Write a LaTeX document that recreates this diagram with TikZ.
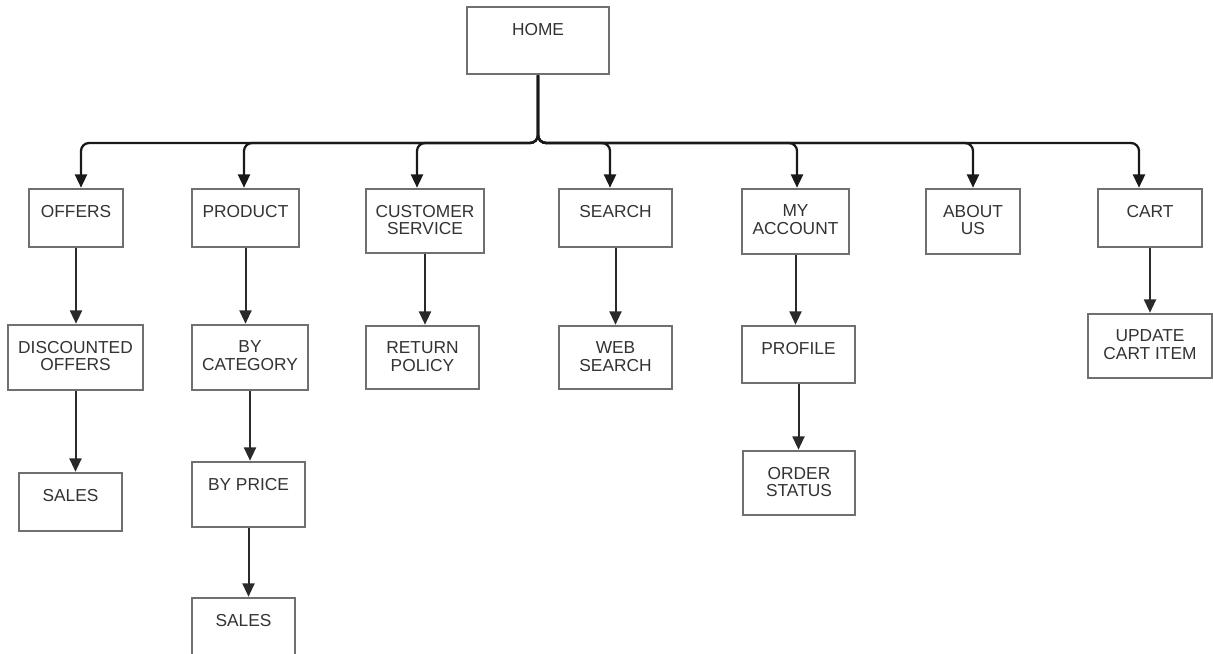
\documentclass[tikz,border=0pt]{standalone}
\usepackage{fontspec}
\setmainfont{Liberation Sans}
\usetikzlibrary{arrows.meta}
\definecolor{boxgray}{HTML}{707070}
\definecolor{txtgray}{HTML}{333333}
\definecolor{lingray}{HTML}{2A2A2A}
\tikzset{
  box/.style={draw=boxgray, line width=1.9pt, fill=white, inner sep=0pt},
  lbl/.style={anchor=north, inner sep=0pt, align=center, text=txtgray,
    font=\fontsize{13}{13.3}\selectfont},
  conn/.style={draw=lingray, line width=1.5pt,
    -{Triangle[length=10pt,width=9pt]}},
  bus/.style={conn, line width=1.7pt, draw=black!90, rounded corners=6pt},
}
\newcommand\bx[6]{%
  \node[box, minimum width={(#4-#2)*0.75pt}, minimum height={(#5-#3)*0.75pt}]
    (#1) at ({(#2+#4)/2},{(#3+#5)/2}) {};
  \node[lbl] (#1t) at ([yshift={-17*0.75pt}]#1.north) {#6};
}
\begin{document}
\begin{tikzpicture}[x=0.75pt, y=-0.75pt]
\useasboundingbox (0,0) rectangle (1213,653);
\clip (0,0) rectangle (1213,653);
\fill[white] (0,0) rectangle (1213,653);
% boxes
\bx{home}{467}{7}{609}{74}{HOME}
\bx{off}{29}{189}{123}{247}{OFFERS}
\bx{prod}{192}{189}{299}{247}{PRODUCT}
\bx{cs}{366}{189}{484}{253}{CUSTOMER\\SERVICE}
\bx{srch}{559}{189}{672}{247}{SEARCH}
\bx{acct}{742}{189}{849}{254}{MY\\ACCOUNT}
\bx{about}{926}{189}{1020}{254}{ABOUT\\US}
\bx{cart}{1098}{189}{1202}{247}{CART}
\bx{disc}{8}{325}{143}{390}{DISCOUNTED\\OFFERS}
\bx{cat}{192}{325}{308}{390}{BY\\CATEGORY}
\bx{ret}{366}{326}{479}{389}{RETURN\\POLICY}
\bx{web}{559}{326}{672}{389}{WEB\\SEARCH}
\bx{prof}{742}{326}{855}{383}{PROFILE}
\bx{upd}{1088}{314}{1212}{378}{UPDATE\\CART ITEM}
\bx{salesa}{19}{473}{122}{531}{SALES}
\bx{price}{192}{462}{305}{527}{BY PRICE}
\bx{order}{743}{451}{855}{515}{ORDER\\STATUS}
\bx{salesb}{192}{598}{295}{662}{SALES}
% bus
\coordinate (bus) at (538,143);
\foreach \n/\d in {off/5, prod/-1.5, cs/-8, srch/-5.5, acct/1.5, about/0, cart/-11}{
  \draw[bus] (home.south) |- ([xshift={\d*0.75pt}]\n.north |- bus)
    -- ([xshift={\d*0.75pt}]\n.north);
}
% lower connectors
\foreach \a/\b in {off/disc, disc/salesa, prod/cat, cat/price, price/salesb,
  cs/ret, srch/web, acct/prof, prof/order, cart/upd}{
  \draw[conn] (\a.south) -- (\a.south |- \b.north);
}
\end{tikzpicture}
\end{document}
